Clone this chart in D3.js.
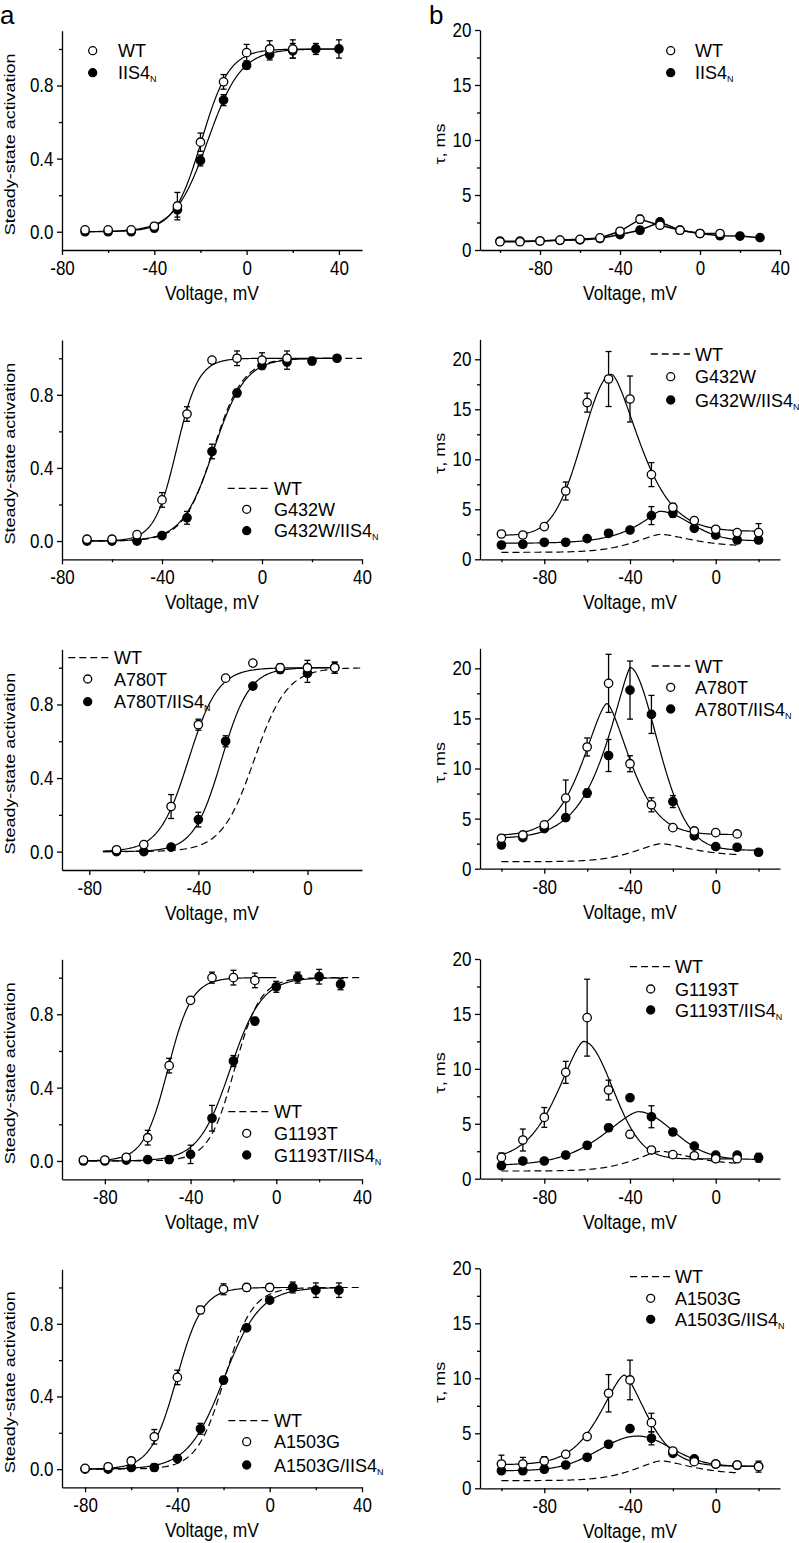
<!DOCTYPE html>
<html><head><meta charset="utf-8">
<script src="https://cdn.jsdelivr.net/npm/d3@7/dist/d3.min.js"></script>
<style>body{margin:0;background:#fff} svg text{fill:#000}</style>
</head><body>
<script>
// ---------------- DATA ----------------
// Row 1 : WT vs IIS4N
const a1_WT_V   = [-70,-60,-50,-40,-30,-20,-10,0,10,20];
const a1_WT     = [0.01,0.01,0.01,0.03,0.14,0.49,0.82,0.98,1.00,1.00];
const a1_WT_err = [0.01,0.01,0.01,0.02,0.075,0.05,0.04,0.045,0.045,0.05];
const a1_IIS_V   = [-70,-60,-50,-40,-30,-20,-10,0,10,20,30,40];
const a1_IIS     = [0.0,0.0,0.0,0.02,0.12,0.39,0.72,0.91,0.97,0.99,1.00,1.00];
const a1_IIS_err = [0.01,0.01,0.01,0.02,0.04,0.03,0.03,0.02,0.03,0.04,0.03,0.05];

const b1_WT_V   = [-100,-90,-80,-70,-60,-50,-40,-30,-20,-10,0,10];
const b1_WT     = [0.75,0.75,0.82,0.9,0.97,1.1,1.7,2.8,2.25,1.8,1.5,1.5];
const b1_WT_err = [0.1,0.1,0.1,0.1,0.1,0.1,0.2,0.35,0.2,0.2,0.2,0.2];
const b1_IIS_V   = [-100,-90,-80,-70,-60,-50,-40,-30,-20,-10,0,10,20,30];
const b1_IIS     = [0.8,0.8,0.82,0.88,0.92,1.05,1.4,1.8,2.55,1.8,1.5,1.3,1.27,1.12];
const b1_IIS_err = [0.1,0.1,0.1,0.1,0.1,0.1,0.15,0.3,0.2,0.15,0.15,0.15,0.15,0.15];

// Row 2 : G432W
const a2_M_V   = [-70,-60,-50,-40,-30,-20,-10,0,10];
const a2_M     = [0.01,0.01,0.035,0.225,0.695,0.99,1.00,0.99,1.00];
const a2_M_err = [0.01,0.01,0.01,0.04,0.04,0.01,0.04,0.04,0.04];
const a2_MI_V   = [-70,-60,-50,-40,-30,-20,-10,0,10,20,30];
const a2_MI     = [0.0,0.0,0.0,0.03,0.127,0.49,0.81,0.96,0.98,0.985,1.0];
const a2_MI_err = [0.01,0.01,0.01,0.01,0.035,0.04,0.02,0.02,0.04,0.02,0.01];

const b2_M_V   = [-100,-90,-80,-70,-60,-50,-40,-30,-20,-10,0,10,20];
const b2_M     = [2.53,2.43,3.27,6.83,15.67,18.03,16.03,8.47,5.2,3.87,3.0,2.67,2.67];
const b2_M_err = [0.2,0.2,0.2,0.9,0.95,2.75,2.3,1.2,0.4,0.3,0.2,0.2,0.9];
const b2_MI_V   = [-100,-90,-80,-70,-60,-50,-40,-30,-20,-10,0,10,20];
const b2_MI     = [1.43,1.5,1.7,1.7,2.07,2.6,2.93,4.37,4.6,3.1,2.43,1.93,1.93];
const b2_MI_err = [0.3,0.3,0.2,0.3,0.2,0.3,0.2,0.9,0.4,0.3,0.3,0.3,0.3];

// Row 3 : A780T
const a3_M_V   = [-70,-60,-50,-40,-30,-20,-10,0,10];
const a3_M     = [0.01,0.038,0.245,0.69,0.943,1.025,1.0,1.0,1.0];
const a3_M_err = [0.01,0.01,0.065,0.03,0.01,0.01,0.02,0.04,0.03];
const a3_MI_V   = [-70,-60,-50,-40,-30,-20,-10,0,10];
const a3_MI     = [0.0,0.0,0.024,0.174,0.60,0.90,0.99,0.97,1.0];
const a3_MI_err = [0.01,0.01,0.01,0.04,0.03,0.01,0.02,0.05,0.03];

const b3_M_V   = [-100,-90,-80,-70,-60,-50,-40,-30,-20,-10,0,10];
const b3_M     = [3.04,3.37,4.37,7.05,12.15,18.5,10.48,6.38,4.1,3.77,3.6,3.47];
const b3_M_err = [0.2,0.2,0.3,1.8,0.9,2.9,0.8,0.7,0.2,0.2,0.2,0.2];
const b3_MI_V   = [-100,-90,-80,-70,-60,-50,-40,-30,-20,-10,0,10,20];
const b3_MI     = [2.37,3.1,4.0,5.1,7.55,11.3,17.83,15.4,6.7,3.27,2.2,2.14,1.64];
const b3_MI_err = [0.3,0.2,0.2,0.3,0.4,1.6,2.9,1.9,0.6,0.3,0.2,0.2,0.2];

// Row 4 : G1193T
const a4_M_V   = [-90,-80,-70,-60,-50,-40,-30,-20,-10];
const a4_M     = [0.005,0.005,0.02,0.127,0.52,0.876,1.0,1.0,0.985];
const a4_M_err = [0.01,0.01,0.01,0.04,0.04,0.01,0.03,0.04,0.04];
const a4_MI_V   = [-90,-80,-70,-60,-50,-40,-30,-20,-10,0,10,20,30];
const a4_MI     = [0.0,0.0,0.005,0.007,0.007,0.036,0.233,0.545,0.763,0.95,1.0,1.005,0.964];
const a4_MI_err = [0.01,0.01,0.01,0.01,0.02,0.05,0.07,0.03,0.02,0.03,0.03,0.04,0.03];

const b4_M_V   = [-100,-90,-80,-70,-60,-50,-40,-30,-20,-10,0,10];
const b4_M     = [1.94,3.52,5.58,9.68,14.66,8.07,4.04,2.61,2.19,2.09,1.82,1.82];
const b4_M_err = [0.4,1.0,0.9,1.0,3.5,0.9,0.3,0.2,0.2,0.2,0.2,0.2];
const b4_MI_V   = [-100,-90,-80,-70,-60,-50,-40,-30,-20,-10,0,10,20];
const b4_MI     = [1.18,1.61,1.61,2.15,3.03,4.64,7.37,5.64,4.25,2.97,2.15,2.15,1.91];
const b4_MI_err = [0.2,0.2,0.2,0.3,0.3,0.3,0.2,1.0,0.3,0.2,0.2,0.2,0.4];

// Row 5 : A1503G
const a5_M_V   = [-80,-70,-60,-50,-40,-30,-20,-10,0];
const a5_M     = [0.004,0.013,0.045,0.178,0.505,0.876,0.99,1.0,1.0];
const a5_M_err = [0.01,0.01,0.01,0.04,0.04,0.02,0.03,0.02,0.02];
const a5_MI_V   = [-80,-70,-60,-50,-40,-30,-20,-10,0,10,20,30];
const a5_MI     = [0.0,0.0,0.009,0.009,0.058,0.222,0.49,0.778,0.93,1.0,0.985,0.985];
const a5_MI_err = [0.01,0.01,0.01,0.02,0.01,0.03,0.02,0.01,0.01,0.03,0.04,0.04];

const b5_M_V   = [-100,-90,-80,-70,-60,-50,-40,-30,-20,-10,0,10,20];
const b5_M     = [2.21,2.21,2.48,3.09,4.7,8.64,9.85,5.97,3.39,2.42,2.21,2.12,1.97];
const b5_M_err = [0.8,0.6,0.4,0.2,0.2,1.7,1.8,0.85,0.2,0.2,0.2,0.3,0.5];
const b5_MI_V   = [-100,-90,-80,-70,-60,-50,-40,-30,-20,-10,0,10,20];
const b5_MI     = [1.6,1.6,1.73,2.12,2.82,4.0,5.42,4.55,3.18,2.67,2.2,2.1,2.0];
const b5_MI_err = [0.2,0.3,0.2,0.2,0.2,0.2,0.2,0.6,0.2,0.2,0.2,0.2,0.2];

// Boltzmann fit parameters [V1/2 (mV), k (mV)]
const fitAct_WT        = [-19.5, 6.0];
const fitAct_IIS4N     = [-16.8, 7.2];
const fitAct_G432W     = [-34.2, 4.4];
const fitAct_G432W_I   = [-19.3, 6.3];
const fitAct_A780T     = [-43.6, 5.4];
const fitAct_A780T_I   = [-31.5, 5.1];
const fitAct_G1193T    = [-50.6, 5.6];
const fitAct_G1193T_I  = [-21.5, 7.4];
const fitAct_A1503G    = [-40.3, 5.6];
const fitAct_A1503G_I  = [-19.8, 7.8];

// Bell-shaped tau fit parameters [Vpeak, peak, baseL, widthL, shapeL, baseR, widthR, shapeR]
const fitTau_WT        = [-25.5, 2.5, 0.7, 11.5, 1.5, 1.3, 12.5, 1.5];
const fitTau_G432W     = [-48.5, 18.5, 2.4, 13.5, 2.0, 2.8, 12.0, 1.5];
const fitTau_G432W_I   = [-26.4, 4.8, 1.6, 9.0, 1.2, 1.85, 14.3, 2.0];
const fitTau_A780T     = [-50.8, 16.5, 3.3, 10.3, 1.5, 3.4, 10.0, 1.5];
const fitTau_A780T_I   = [-39.9, 20.1, 3.0, 9.8, 1.3, 1.85, 12.5, 1.8];
const fitTau_G1193T    = [-61.7, 12.5, 1.7, 11.3, 1.5, 1.8, 13.5, 2.0];
const fitTau_G1193T_I  = [-36.2, 6.1, 1.2, 15.2, 1.5, 1.75, 16.0, 2.0];
const fitTau_A1503G    = [-42.7, 10.3, 2.15, 10.5, 1.5, 2.0, 9.7, 1.5];
const fitTau_A1503G_I  = [-36.5, 4.75, 1.6, 17.7, 2.0, 2.0, 15.6, 2.0];

// Axis ticks
const actTicks = [0, 0.4, 0.8];
const actMinor = [0.2, 0.6, 1.0];
const tauTicks = [0, 5, 10, 15, 20];
const tauMinor = [2.5, 7.5, 12.5, 17.5];

// ---------------- DRAWING ----------------
const FONT = '"Liberation Sans", Arial, Helvetica, sans-serif';
const svg = d3.select('body').append('svg').attr('width', 799).attr('height', 1543)
  .style('background', '#fff').style('display','block');

const boltz = p => V => 1 / (1 + Math.exp((p[0] - V) / p[1]));
const bell = p => V => {
  const [Vp, P, bL, wL, pL, bR, wR, pR] = p; const d = V - Vp;
  return d < 0 ? bL + (P - bL) * Math.exp(-0.5 * Math.pow(-d / wL, pL))
               : bR + (P - bR) * Math.exp(-0.5 * Math.pow(d / wR, pR));
};
const S = (V, val, err, filled) => ({V, val, err, filled});

const L = {x0: 62, x1: 362}, R = {x0: 480, x1: 780};
const panels = [
  {...L, y0: 30.7, y1: 250, kind: 'act', xDomain: [-80, 50], xMajor: [-80,-40,0,40], xMinor: [-60,-20,20],
   series: [S(a1_IIS_V, a1_IIS, a1_IIS_err, true), S(a1_WT_V, a1_WT, a1_WT_err, false)],
   fits: [{p: fitAct_WT, r: [-70, 40]}, {p: fitAct_IIS4N, r: [-70, 40]}],
   legend: {cx: 92.7, tx: 118, ys: [50.7, 72.7], items: [['open','WT',''],['filled','IIS4','N']]}},
  {...R, y0: 30, y1: 250, kind: 'tau', yMax: 20, xDomain: [-110, 40], xMajor: [-80,-40,0,40], xMinor: [-100,-60,-20,20],
   series: [S(b1_IIS_V, b1_IIS, b1_IIS_err, true), S(b1_WT_V, b1_WT, b1_WT_err, false)], connect: true, fits: [],
   legend: {cx: 670.7, tx: 695, ys: [50.7, 72.7], items: [['open','WT',''],['filled','IIS4','N']]}},

  {...L, y0: 340, y1: 559.3, kind: 'act', xDomain: [-80, 40], xMajor: [-80,-40,0,40], xMinor: [-60,-20,20],
   series: [S(a2_MI_V, a2_MI, a2_MI_err, true), S(a2_M_V, a2_M, a2_M_err, false)],
   fits: [{p: fitAct_WT, r: [-70, 40], dash: true}, {p: fitAct_G432W, r: [-70, 30]}, {p: fitAct_G432W_I, r: [-70, 30]}],
   legend: {cx: 246.7, tx: 274, dx: [227.7, 270], ys: [488.3, 509.3, 530.7], items: [['dash','WT',''],['open','G432W',''],['filled','G432W/IIS4','N']]}},
  {...R, y0: 339.3, y1: 559.3, kind: 'tau', yMax: 22, xDomain: [-110, 30], xMajor: [-80,-40,0], xMinor: [-100,-60,-20,20],
   series: [S(b2_MI_V, b2_MI, b2_MI_err, true), S(b2_M_V, b2_M, b2_M_err, false)],
   fits: [{p: fitTau_WT, r: [-100, 10], dash: true}, {p: fitTau_G432W, r: [-100, 20]}, {p: fitTau_G432W_I, r: [-100, 20]}],
   legend: {cx: 670.7, tx: 695, dx: [650.7, 690], ys: [354, 376.7, 400], items: [['dash','WT',''],['open','G432W',''],['filled','G432W/IIS4','N']]}},

  {...L, y0: 649.3, y1: 870, kind: 'act', xDomain: [-90, 20], xMajor: [-80,-40,0], xMinor: [-60,-20],
   series: [S(a3_MI_V, a3_MI, a3_MI_err, true), S(a3_M_V, a3_M, a3_M_err, false)],
   fits: [{p: fitAct_WT, r: [-75, 20], dash: true}, {p: fitAct_A780T, r: [-75, 10]}, {p: fitAct_A780T_I, r: [-75, 10]}],
   legend: {cx: 87.7, tx: 114, dx: [68.3, 111.7], ys: [657.7, 679, 701.7], items: [['dash','WT',''],['open','A780T',''],['filled','A780T/IIS4','N']]}},
  {...R, y0: 648.3, y1: 868.7, kind: 'tau', yMax: 22, xDomain: [-110, 30], xMajor: [-80,-40,0], xMinor: [-100,-60,-20,20],
   series: [S(b3_MI_V, b3_MI, b3_MI_err, true), S(b3_M_V, b3_M, b3_M_err, false)],
   fits: [{p: fitTau_WT, r: [-100, 10], dash: true}, {p: fitTau_A780T, r: [-100, 10]}, {p: fitTau_A780T_I, r: [-100, 20]}],
   legend: {cx: 670.7, tx: 695, dx: [651.7, 690], ys: [666, 687.3, 709], items: [['dash','WT',''],['open','A780T',''],['filled','A780T/IIS4','N']]}},

  {...L, y0: 959.3, y1: 1179.3, kind: 'act', xDomain: [-100, 40], xMajor: [-80,-40,0,40], xMinor: [-60,-20,20],
   series: [S(a4_MI_V, a4_MI, a4_MI_err, true), S(a4_M_V, a4_M, a4_M_err, false)],
   fits: [{p: fitAct_WT, r: [-92, 40], dash: true}, {p: fitAct_G1193T, r: [-92, 0]}, {p: fitAct_G1193T_I, r: [-92, 30]}],
   legend: {cx: 246.7, tx: 274, dx: [228.3, 270], ys: [1111.7, 1133.3, 1155], items: [['dash','WT',''],['open','G1193T',''],['filled','G1193T/IIS4','N']]}},
  {...R, y0: 959, y1: 1178.7, kind: 'tau', yMax: 20, xDomain: [-110, 30], xMajor: [-80,-40,0], xMinor: [-100,-60,-20,20],
   series: [S(b4_MI_V, b4_MI, b4_MI_err, true), S(b4_M_V, b4_M, b4_M_err, false)],
   fits: [{p: fitTau_WT, r: [-100, 10], dash: true}, {p: fitTau_G1193T, r: [-100, 10]}, {p: fitTau_G1193T_I, r: [-100, 20]}],
   legend: {cx: 650.7, tx: 675, dx: [630, 670], ys: [966.7, 989, 1010], items: [['dash','WT',''],['open','G1193T',''],['filled','G1193T/IIS4','N']]}},

  {...L, y0: 1269.3, y1: 1487.3, kind: 'act', xDomain: [-90, 40], xMajor: [-80,-40,0,40], xMinor: [-60,-20,20],
   series: [S(a5_MI_V, a5_MI, a5_MI_err, true), S(a5_M_V, a5_M, a5_M_err, false)],
   fits: [{p: fitAct_WT, r: [-80, 40], dash: true}, {p: fitAct_A1503G, r: [-80, 10]}, {p: fitAct_A1503G_I, r: [-80, 30]}],
   legend: {cx: 246.7, tx: 274, dx: [228.3, 270], ys: [1420.7, 1441.7, 1465], items: [['dash','WT',''],['open','A1503G',''],['filled','A1503G/IIS4','N']]}},
  {...R, y0: 1268.3, y1: 1488.3, kind: 'tau', yMax: 20, xDomain: [-110, 30], xMajor: [-80,-40,0], xMinor: [-100,-60,-20,20],
   series: [S(b5_MI_V, b5_MI, b5_MI_err, true), S(b5_M_V, b5_M, b5_M_err, false)],
   fits: [{p: fitTau_WT, r: [-100, 10], dash: true}, {p: fitTau_A1503G, r: [-100, 20]}, {p: fitTau_A1503G_I, r: [-100, 20]}],
   legend: {cx: 650.7, tx: 675, dx: [630, 670], ys: [1276.7, 1298.3, 1319.3], items: [['dash','WT',''],['open','A1503G',''],['filled','A1503G/IIS4','N']]}}
];

function styleAxis(a, withText) {
  a.selectAll('line').attr('stroke', '#000').attr('stroke-width', 1.3);
  a.select('.domain').attr('stroke', '#000').attr('stroke-width', 1.3);
  if (withText) a.selectAll('text').attr('font-family', FONT).attr('font-size', 20)
      .attr('fill', '#000').attr('transform', 'scale(0.85,1)');
}

panels.forEach(P => {
  const isAct = P.kind === 'act';
  const x = d3.scaleLinear().domain(P.xDomain).range([P.x0, P.x1]);
  const y = d3.scaleLinear().domain(isAct ? [-0.1, 1.1] : [0, P.yMax]).range([P.y1, P.y0]);
  const g = svg.append('g');

  const mx = g.append('g').attr('transform', `translate(0,${P.y1})`)
    .call(d3.axisBottom(x).tickValues(P.xMinor).tickSize(3).tickFormat(''));
  mx.select('.domain').remove(); styleAxis(mx, false);
  const my = g.append('g').attr('transform', `translate(${P.x0},0)`)
    .call(d3.axisLeft(y).tickValues(isAct ? actMinor : tauMinor).tickSize(3).tickFormat(''));
  my.select('.domain').remove(); styleAxis(my, false);
  const ax = g.append('g').attr('transform', `translate(0,${P.y1})`)
    .call(d3.axisBottom(x).tickValues(P.xMajor).tickSize(5).tickPadding(6).tickSizeOuter(0).tickFormat(d => String(d)));
  styleAxis(ax, true);
  const ay = g.append('g').attr('transform', `translate(${P.x0},0)`)
    .call(d3.axisLeft(y).tickValues(isAct ? actTicks : tauTicks).tickSize(5).tickPadding(5).tickSizeOuter(0)
      .tickFormat(d => isAct ? d.toFixed(1) : String(d)));
  styleAxis(ay, true);

  // axis titles
  const xc = (P.x0 + P.x1) / 2, yc = (P.y0 + P.y1) / 2 + 4;
  g.append('text').attr('transform', `translate(${xc},${P.y1 + 50}) scale(0.87,1)`)
    .attr('text-anchor', 'middle').attr('font-family', FONT).attr('font-size', 20).attr('fill', '#000').text('Voltage, mV');
  g.append('text').attr('transform', `translate(${isAct ? 14.5 : 445},${yc}) rotate(-90) scale(1,0.8)`)
    .attr('text-anchor', 'middle').attr('font-family', FONT).attr('font-size', 18).attr('fill', '#000')
    .text(isAct ? 'Steady-state activation' : 'τ, ms');

  // fits
  const line = d3.line().x(d => x(d[0])).y(d => y(d[1]));
  P.fits.forEach(f => {
    const fn = isAct ? boltz(f.p) : bell(f.p);
    const pts = d3.range(f.r[0], f.r[1] + 1e-9, 0.5).map(v => [v, fn(v)]);
    g.append('path').attr('d', line(pts)).attr('fill', 'none').attr('stroke', '#000')
      .attr('stroke-width', 1.2).attr('stroke-dasharray', f.dash ? '7,4' : null);
  });
  if (P.connect) P.series.forEach(s => {
    g.append('path').attr('d', line(s.V.map((v, i) => [v, s.val[i]]))).attr('fill', 'none')
      .attr('stroke', '#000').attr('stroke-width', 1.5);
  });

  // error bars
  P.series.forEach(s => {
    s.V.forEach((v, i) => {
      const e = s.err[i]; if (!e) return;
      const cx = x(v), yt = y(s.val[i] + e), yb = y(s.val[i] - e);
      g.append('line').attr('x1', cx).attr('x2', cx).attr('y1', yt).attr('y2', yb).attr('stroke', '#000').attr('stroke-width', 1.3);
      [yt, yb].forEach(yy => g.append('line').attr('x1', cx - 3).attr('x2', cx + 3).attr('y1', yy).attr('y2', yy)
        .attr('stroke', '#000').attr('stroke-width', 1.3));
    });
  });
  // points
  P.series.forEach(s => {
    g.selectAll(null).data(s.V.map((v, i) => [v, s.val[i]])).join('circle')
      .attr('cx', d => x(d[0])).attr('cy', d => y(d[1])).attr('r', 4.2)
      .attr('fill', s.filled ? '#000' : '#fff').attr('stroke', '#000').attr('stroke-width', 1.3);
  });

  // legend
  const Lg = P.legend;
  Lg.items.forEach((it, i) => {
    const yy = Lg.ys[i];
    if (it[0] === 'dash') {
      g.append('line').attr('x1', Lg.dx[0]).attr('x2', Lg.dx[1]).attr('y1', yy).attr('y2', yy)
        .attr('stroke', '#000').attr('stroke-width', 1.3).attr('stroke-dasharray', '7,4');
    } else {
      g.append('circle').attr('cx', Lg.cx).attr('cy', yy).attr('r', 4)
        .attr('fill', it[0] === 'filled' ? '#000' : '#fff').attr('stroke', '#000').attr('stroke-width', 1.3);
    }
    const t = g.append('text').attr('x', Lg.tx).attr('y', yy + 6.5).attr('font-family', FONT)
      .attr('font-size', 18).attr('fill', '#000');
    t.append('tspan').attr('fill', '#000').text(it[1]);
    if (it[2]) t.append('tspan').attr('font-size', 9).attr('dy', 3).attr('fill', '#000').text(it[2]);
  });
});

// panel letters
svg.append('text').attr('x', 0).attr('y', 24).attr('font-family', FONT).attr('font-size', 26).attr('fill', '#000').text('a');
svg.append('text').attr('x', 429).attr('y', 24).attr('font-family', FONT).attr('font-size', 26).attr('fill', '#000').text('b');
</script>
</body></html>
